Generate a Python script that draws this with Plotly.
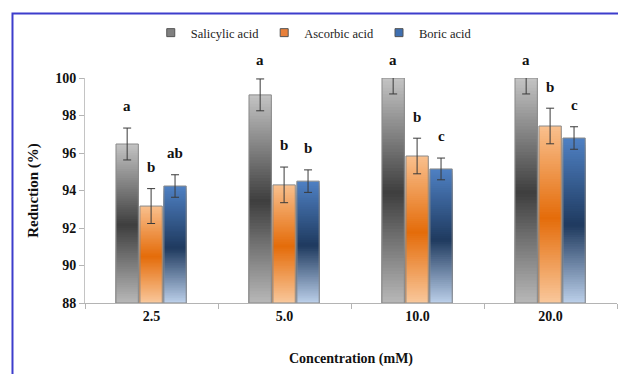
import numpy as np
import plotly.graph_objects as go

# ---- data ----
categories = ["2.5", "5.0", "10.0", "20.0"]
series_names = ["Salicylic acid", "Ascorbic acid", "Boric acid"]
salicylic = [96.48, 99.10, 100.0, 100.0]
ascorbic = [93.17, 94.30, 95.84, 97.44]
boric = [94.24, 94.50, 95.15, 96.80]
salicylic_err = [0.85, 0.85, 0.85, 0.85]
ascorbic_err = [0.93, 0.95, 0.95, 0.95]
boric_err = [0.60, 0.60, 0.58, 0.60]
salicylic_letters = ["a", "a", "a", "a"]
ascorbic_letters = ["b", "b", "b", "b"]
boric_letters = ["ab", "b", "c", "c"]
y_ticks = [88, 90, 92, 94, 96, 98, 100]

# ---- style ----
Y_MIN, Y_MAX = 88.0, 100.0
BASE = Y_MIN
FONT = "Liberation Serif"
gradients = [
    [(0.0, (184, 184, 184)), (0.49, (62, 62, 62)), (1.0, (196, 196, 196))],
    [(0.0, (249, 200, 156)), (0.48, (228, 108, 10)), (1.0, (249, 192, 142))],
    [(0.0, (188, 208, 234)), (0.47, (31, 58, 95)), (1.0, (79, 129, 196))],
]
legend_colors = ["#808080", "#e8803a", "#3f6fb0"]
widths = 0.168
offsets = [-0.267, -0.087, 0.093]
N_SEG = 70


def grad_color(stops, t):
    for (t0, c0), (t1, c1) in zip(stops[:-1], stops[1:]):
        if t0 <= t <= t1:
            f = (t - t0) / (t1 - t0)
            c = [round(a + (b - a) * f) for a, b in zip(c0, c1)]
            return f"rgb({c[0]},{c[1]},{c[2]})"
    c = stops[-1][1]
    return f"rgb({c[0]},{c[1]},{c[2]})"


xs = np.arange(len(categories))
values = [salicylic, ascorbic, boric]
errors = [salicylic_err, ascorbic_err, boric_err]
letters = [salicylic_letters, ascorbic_letters, boric_letters]

fig = go.Figure()

for si, name in enumerate(series_names):
    vals = values[si]
    # gradient body: nested bars from the base, tallest first, so each
    # visible band is the top slice of a bar (no seams)
    seg_x, seg_y, seg_col = [], [], []
    for ci, v in enumerate(vals):
        h = (v - BASE) / N_SEG
        for k in range(N_SEG - 1, -1, -1):
            seg_x.append(xs[ci])
            seg_y.append(h * (k + 1))
            seg_col.append(grad_color(gradients[si], (k + 0.5) / N_SEG))
    fig.add_trace(go.Bar(
        x=seg_x, y=seg_y, base=BASE, width=widths, offset=offsets[si],
        marker=dict(color=seg_col, line=dict(width=0)),
        showlegend=False, hoverinfo="skip",
    ))
    # outline + error bars
    fig.add_trace(go.Bar(
        x=xs, y=[v - BASE for v in vals], base=BASE, width=widths, offset=offsets[si],
        marker=dict(color="rgba(0,0,0,0)", line=dict(color="#8a8a8a", width=1)),
        error_y=dict(type="data", array=errors[si], color="#3a3a3a", thickness=1, width=4),
        showlegend=False, hoverinfo="skip",
    ))

# significance letters (paper y so they may sit above the axis top)
for si in range(3):
    for ci, x in enumerate(xs):
        v, e = values[si][ci], errors[si][ci]
        ly = min(v + e + 1.15, 100.95)
        fig.add_annotation(
            x=x + offsets[si] + widths / 2, xref="x",
            y=(ly - Y_MIN) / (Y_MAX - Y_MIN), yref="paper",
            xanchor="center", yanchor="middle",
            text=letters[si][ci], showarrow=False,
            font=dict(family=FONT, size=15, color="#111111", weight="bold"),
        )

# legend entries
for si, name in enumerate(series_names):
    fig.add_trace(go.Scatter(
        x=[None], y=[None], mode="markers", name=name,
        marker=dict(symbol="square", size=8, color=legend_colors[si],
                    line=dict(color="#555555", width=1)),
    ))

# frame lines (blue border)
fig.add_shape(type="path", xref="paper", yref="paper",
              path="M -0.1363,-0.40 L -0.1363,1.2867 L 1.2,1.2867",
              line=dict(color="#3d3dcc", width=2))

fig.update_layout(
    width=618, height=374,
    margin=dict(l=85, r=1, t=78, b=71),
    paper_bgcolor="white", plot_bgcolor="white",
    barmode="overlay",
    font=dict(family=FONT, color="#111111"),
    legend=dict(orientation="h", x=0.43, xanchor="center", y=1.2, yanchor="middle",
                font=dict(family=FONT, size=12.5, color="#222222"),
                itemwidth=30, bgcolor="rgba(0,0,0,0)"),
    xaxis=dict(
        range=[-0.5, 3.5], tickmode="array", tickvals=list(xs), ticktext=categories,
        ticks="", showgrid=False, zeroline=False,
        showline=True, linecolor="#b4b4b4", linewidth=1,
        tickfont=dict(family=FONT, size=14, color="#111111", weight="bold"),
        minor=dict(tick0=0.5, dtick=1, ticks="outside", ticklen=5, tickcolor="#b4b4b4", showgrid=False),
        title=dict(text="Concentration (mM)", standoff=30,
                   font=dict(family=FONT, size=14, color="#111111", weight="bold")),
    ),
    yaxis=dict(
        range=[Y_MIN, Y_MAX], tickmode="array", tickvals=y_ticks,
        ticks="outside", ticklen=5, tickcolor="#b4b4b4",
        showgrid=False, zeroline=False,
        showline=True, linecolor="#c4c4c4", linewidth=1,
        tickfont=dict(family=FONT, size=14, color="#111111", weight="bold"),
        title=dict(text="Reduction (%)", standoff=12,
                   font=dict(family=FONT, size=15, color="#111111", weight="bold")),
    ),
)

fig.write_html("out.html", config={"displayModeBar": False},
               post_script="document.body.style.margin='0';")
